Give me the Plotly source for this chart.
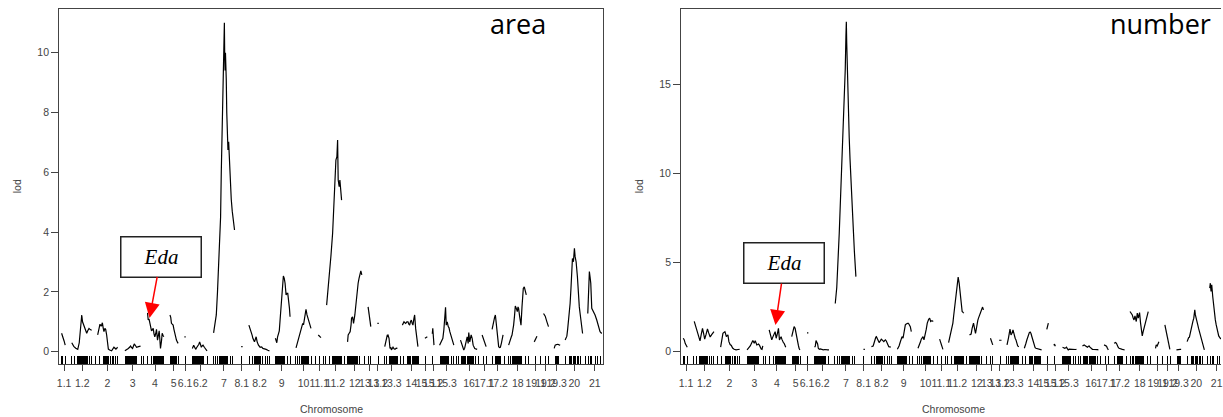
import plotly.graph_objects as go

# ---------------------------------------------------------------- data
chrom_names = ["1.1", "1.2", "2", "3", "4", "5", "6.1", "6.2", "7", "8.1", "8.2",
               "9", "10", "11.1", "11.2", "12", "13.1", "13.2", "13.3", "14",
               "15.1", "15.2", "15.3", "16", "17.1", "17.2", "18", "19.1",
               "19.2", "19.3", "20", "21"]
# cumulative map position of each linkage-group midpoint (axis ticks)
chrom_mid = [62.3, 80.5, 105.7, 131.0, 153.5, 172.3, 183.7, 199.0, 222.7, 240.5,
             258.3, 280.7, 302.5, 318.3, 334.3, 354.0, 368.5, 377.0, 390.7, 410.8,
             425.3, 432.5, 446.0, 468.6, 484.0, 497.3, 517.5, 535.5, 545.2, 556.5,
             574.2, 594.7]

# genotyped marker positions (cumulative), shown as a rug
marker_pos = [
    59.5, 60.7, 64.0,
    70.0, 72.7, 75.7, 76.5, 77.3, 78.0, 78.8, 79.6, 80.4, 81.2, 82.0, 82.8, 83.6, 84.3, 86.0, 87.7, 90.0,
    94.3, 98.3, 101.7, 102.7, 103.7, 105.0, 106.0, 107.3, 109.0, 110.7, 112.3, 114.3, 116.0,
    123.5, 124.3, 125.1, 125.9, 126.7, 127.5, 128.3, 129.1, 129.9, 130.7, 131.5, 132.3, 133.1, 133.8,
    134.5, 140.0, 142.3,
    145.7, 150.0, 151.7, 152.5, 153.3, 154.1, 154.9, 155.7, 156.5, 157.3, 158.1, 158.9, 159.7, 160.5,
    161.3, 162.3,
    169.0, 169.8, 170.6, 172.3, 173.0, 173.8, 174.5, 175.2, 176.7,
    183.7,
    191.0, 191.8, 192.6, 193.4, 194.2, 195.0, 195.8, 196.6, 197.4, 198.2, 199.0, 199.8, 200.6, 201.4,
    202.3, 205.7,
    211.7, 214.3, 216.5, 218.0, 219.0, 220.0, 221.0, 222.0, 223.0, 224.0, 225.0, 226.7, 229.0, 231.7,
    240.5,
    248.3, 251.0, 253.3, 254.1, 254.9, 255.7, 256.5, 257.3, 258.1, 258.9, 259.7, 261.7, 264.0, 266.0, 268.3,
    274.3, 275.1, 275.9, 276.7, 277.5, 278.3, 279.1, 279.9, 280.7, 281.5, 282.3, 283.1, 286.7, 289.3,
    294.3, 296.7, 298.3, 300.7, 301.5, 302.3, 303.1, 303.9, 304.7, 305.5, 306.3, 307.1, 307.9, 311.0,
    315.0, 318.3, 322.3, 325.0, 328.3,
    331.7, 332.5, 333.3, 334.1, 334.9, 335.7, 336.5, 337.3, 338.1, 338.9, 339.7, 340.5, 343.3,
    346.7, 347.5, 348.3, 349.1, 349.9, 350.7, 351.5, 352.3, 353.1, 353.9, 354.7, 355.5, 356.3, 358.3, 363.3,
    367.3, 370.0, 377.3,
    384.0, 385.7, 388.3, 389.1, 389.9, 390.7, 391.5, 392.3, 393.1, 393.9, 394.7, 395.5, 396.3, 400.0, 403.3,
    406.7, 408.0, 409.0, 410.3, 411.5, 413.0, 414.0, 415.0, 416.0, 417.0, 418.3,
    425.0, 431.7,
    440.0, 440.8, 441.6, 442.4, 443.2, 444.0, 444.8, 445.6, 446.4, 447.2, 448.0, 451.0, 453.3, 455.7, 458.3,
    461.0, 461.8, 462.6, 463.4, 464.2, 465.0, 466.7, 467.7, 468.5, 469.5, 470.5, 471.5, 472.5, 473.5,
    475.0, 477.7,
    483.3, 486.0, 492.3, 495.0, 495.8, 496.6, 497.4, 498.2, 499.0, 499.8, 504.3,
    508.3, 510.0, 511.7, 513.3, 514.1, 514.9, 515.7, 516.5, 517.3, 518.1, 518.9, 519.7, 520.5, 521.3,
    525.0, 528.3,
    535.0, 540.0, 545.0, 548.3,
    555.0, 555.8, 556.6, 557.4, 558.3,
    565.0, 569.0, 570.3, 571.7, 573.0, 574.3, 575.7, 577.0, 578.3, 580.0,
    585.0, 588.3, 590.0, 591.7, 595.0, 597.7, 600.0,
]

# LOD profile for plate area, one list per linkage group
area_pos = [
    [59.8, 61.2, 62.3, 63.4],
    [70, 72, 74, 76, 77.5, 79, 80, 80.8, 81.7, 83.3, 85, 86, 87.3, 88.5, 90],
    [96, 97, 98.3, 99.5, 100.7, 101.5, 102.3, 103.2, 104, 105, 106, 106.7, 108, 110, 112.3, 114.3, 116],
    [123.3, 125, 126.7, 128, 129, 130, 131, 132, 132.7, 134, 135, 137, 139],
    [146, 146.7, 147.5, 148.3, 149.2, 150, 151, 151.7, 152.5, 153.3, 154.2, 155, 156, 157, 157.7, 158.4,
     159, 160, 160.7, 161.5, 162.3],
    [168.5, 169.3, 170, 171, 171.7, 172.5, 173.3, 174.2, 175, 176, 176.7],
    [183.0, 184.3],
    [191, 192.3, 193.3, 194.3, 195.5, 196.7, 197.5, 198.3, 199.2, 200, 201, 201.7, 203, 204, 205.7],
    [212.3, 213.5, 215, 216.2, 217.3, 218.3, 219.3, 220, 220.6, 221.2, 221.8, 222.4, 222.8, 223.1, 223.4,
     223.8, 224.2, 224.6, 225, 225.5, 226, 226.7, 227.4, 228, 228.7, 229.3, 230, 231, 232, 233.3],
    [240.0, 241.4],
    [247.7, 249, 250, 251, 251.7, 252.5, 253.3, 254, 255, 256, 257.3, 259, 260.5, 261.7, 263.5, 265, 266.7, 268.3],
    [274.3, 275, 275.7, 276.5, 277.3, 278.2, 279, 279.8, 280.7, 281.5, 282.3, 283.2, 284, 285, 285.8, 286.7,
     287.7, 288.4, 289],
    [295, 296, 296.7, 297.5, 298.3, 299.2, 300, 301, 301.7, 302.5, 303.3, 304.2, 305, 306, 306.7, 307.3,
     308.2, 309, 310],
    [317.3, 318.7, 320],
    [325.7, 327, 328.3, 330, 331.7, 332.5, 333.3, 334.3, 335, 336, 336.7, 337.3, 338.3, 339, 340, 340.7],
    [346.7, 347.3, 348.3, 349.3, 350.2, 350.7, 351.7, 352.7, 354, 355, 356, 357.3, 358.2, 359, 360, 361],
    [367.3, 368.5, 370],
    [376.6, 378.0],
    [384, 384.8, 385.7, 386.5, 387.3, 388.3, 389.3, 390, 390.7, 391.5, 392.3, 393.3, 394.3, 395.5, 396.7],
    [401.7, 402.5, 403.3, 404.2, 405, 406.2, 407.3, 408.2, 409, 409.8, 410.7, 411.5, 412.3, 413.2, 414,
     415, 416, 417.3],
    [424.3, 426.7],
    [431.7, 432.2, 432.8, 433.4],
    [439, 440, 441, 442.3, 443.3, 444.3, 445, 445.7, 446.7, 447.7, 448.5, 449.3, 450.2, 451, 452.2, 453.3],
    [460, 461, 461.7, 462.5, 463.3, 464.2, 465, 466, 466.7, 467.7, 468.3, 469.3, 470, 470.7, 471.7, 472.7,
     474.3, 476.7],
    [481.7, 483.7, 485.7],
    [491.7, 492.5, 493.3, 494.2, 495, 496, 497.3, 498.3, 499.2, 500, 501, 501.7, 502.7],
    [508.3, 509.2, 510, 511, 511.7, 512.5, 513.3, 514.2, 515, 516, 517, 517.7, 518.3, 519.3, 520, 520.7,
     521.7, 522.3, 523, 524, 525, 526],
    [534, 535.3, 536.7],
    [543.3, 545, 546.7, 548.3],
    [554, 555, 556.3, 557.7, 559, 560],
    [565, 566.7, 567.5, 568.3, 569.2, 570, 570.8, 571.7, 572.3, 573.3, 574.3, 575, 576, 577.3, 578.3,
     579.2, 580, 580.8, 581.7, 582.5],
    [587.7, 588.3, 589.3, 590, 590.7, 591.7, 592.5, 593.3, 595, 596.7, 598.3, 600, 601.7],
]
area_lod = [
    [0.62, 0.42, 0.36, 0.22],
    [0.3, 0.18, 0.12, 0.08, 0.3, 0.8, 1.23, 1.0, 0.92, 0.82, 0.62, 0.7, 0.78, 0.74, 0.72],
    [0.56, 0.75, 0.92, 0.85, 0.97, 0.8, 0.67, 0.78, 0.75, 0.56, 0.3, 0.09, 0.06, 0.03, 0.15, 0.09, 0.15],
    [0.03, 0.06, 0.11, 0.15, 0.19, 0.14, 0.11, 0.2, 0.26, 0.2, 0.15, 0.17, 0.19],
    [1.3, 1.06, 1.1, 0.95, 0.8, 0.7, 0.75, 0.78, 0.6, 0.5, 0.6, 0.75, 0.39, 0.55, 0.7, 0.4,
     0.11, 0.35, 0.62, 0.55, 0.5],
    [1.23, 1.15, 0.95, 0.92, 0.89, 0.75, 0.62, 0.5, 0.39, 0.32, 0.28],
    [0.5, 0.5],
    [0.11, 0.22, 0.15, 0.08, 0.15, 0.19, 0.25, 0.33, 0.22, 0.15, 0.2, 0.22, 0.15, 0.09, 0.03],
    [0.63, 0.85, 1.23, 2.0, 2.96, 3.7, 4.5, 6.0, 6.8, 7.5, 8.4, 9.6, 10.4, 11.0, 10.0,
     9.4, 10.0, 9.7, 9.1, 8.0, 6.97, 6.75, 7.02, 6.5, 6.13, 5.9, 5.1, 4.7, 4.4, 4.07],
    [0.17, 0.17],
    [0.89, 0.78, 0.67, 0.55, 0.45, 0.4, 0.33, 0.4, 0.5, 0.33, 0.22, 0.15, 0.16, 0.11, 0.1, 0.08, 0.05, 0.03],
    [0.45, 0.4, 0.3, 0.5, 0.62, 0.7, 1.06, 1.5, 2.06, 2.4, 2.53, 2.45, 2.29, 1.9, 1.95, 1.95,
     1.73, 1.45, 1.17],
    [0.13, 0.25, 0.33, 0.45, 0.56, 0.65, 0.78, 0.85, 0.95, 0.9, 1.12, 1.25, 1.42, 1.23, 1.15, 1.06,
     0.95, 0.89, 0.78],
    [0.56, 0.5, 0.47],
    [1.56, 2.0, 2.51, 3.2, 3.96, 4.5, 5.07, 6.13, 6.41, 6.52, 7.08, 5.74, 5.52, 5.74, 5.35, 5.07],
    [0.33, 0.56, 0.62, 0.67, 0.9, 1.12, 1.17, 0.95, 1.23, 1.6, 1.95, 2.29, 2.45, 2.62, 2.7, 2.57],
    [1.5, 1.1, 0.84],
    [0.95, 0.95],
    [0.17, 0.3, 0.45, 0.55, 0.56, 0.45, 0.11, 0.15, 0.06, 0.1, 0.15, 0.1, 0.08, 0.12, 0.11],
    [0.89, 0.95, 1.0, 0.97, 0.95, 1.0, 1.0, 0.92, 0.89, 1.0, 1.06, 0.95, 0.89, 1.1, 1.23,
     0.78, 0.5, 0.17],
    [0.45, 0.5],
    [0.6, 0.78, 0.5, 0.22],
    [0.22, 0.3, 0.39, 0.45, 0.73, 1.04, 1.49, 0.89, 1.0, 0.84, 0.8, 0.67, 0.55, 0.45, 0.33, 0.22],
    [0.39, 0.3, 0.22, 0.12, 0.06, 0.12, 0.22, 0.4, 0.5, 0.28, 0.64, 0.33, 0.45, 0.56, 0.45, 0.22,
     0.11, 0.08],
    [0.56, 0.36, 0.17],
    [0.75, 0.9, 1.06, 1.15, 1.23, 0.89, 0.45, 0.17, 0.14, 0.15, 0.28, 0.39, 0.56],
    [0.22, 0.35, 0.45, 0.5, 0.56, 0.7, 0.89, 1.2, 1.53, 1.45, 1.34, 1.5, 1.45, 1.19, 1.0, 0.89,
     1.5, 1.8, 2.12, 2.17, 2.06, 1.9],
    [0.33, 0.42, 0.52],
    [1.28, 1.19, 1.0, 0.84],
    [0.11, 0.22, 0.24, 0.25, 0.23, 0.22],
    [0.39, 0.52, 0.75, 1.0, 1.3, 1.62, 2.1, 2.62, 3.12, 3.01, 3.46, 3.18, 3.01, 2.51, 1.84,
     1.5, 1.28, 1.0, 0.73, 0.61],
    [1.28, 1.95, 2.68, 2.5, 2.29, 1.45, 1.4, 1.34, 1.23, 1.06, 0.89, 0.67, 0.61],
]

# LOD profile for plate number, one list per linkage group
number_pos = [
    [59.5, 60.5, 61.5, 62.5, 63.5],
    [70.5, 72, 73.5, 75, 76.3, 77.5, 78.8, 80, 81, 82.3, 83.8, 85, 86.5, 88, 89, 90.3],
    [97, 97.7, 98.5, 99.3, 100.3, 101.3, 102, 102.7, 103.5, 104.3, 105.3, 106.5, 107.7, 109, 110.5,
     112.5, 114.5, 116],
    [123.5, 124.5, 125.7, 126.7, 127.7, 128.5, 129.3, 130, 130.7, 131.7, 132.5, 133.3, 134.2, 135, 136,
     136.7, 137.7, 138.5, 139.3],
    [145.7, 146.3, 147, 147.7, 148.3, 149.2, 150, 150.8, 151.7, 152.7, 153.3, 154, 155, 156, 156.8, 157.7,
     158.4, 159, 160, 160.7, 161.5, 162.3],
    [168.3, 169.3, 170, 170.7, 171.7, 172.7, 173.5, 174, 175, 175.7, 176.5],
    [183.6, 185.0],
    [191.3, 192, 192.7, 193.5, 194.3, 195, 196, 197, 198.5, 200, 201.5, 203.3, 204.5, 205.7],
    [212, 213.5, 216, 218.7, 220.3, 221.3, 222, 222.7, 223.1, 223.5, 223.9, 224.4, 225, 225.4, 226,
     226.8, 227.7, 228.5, 229.3, 230.3, 231.2, 232, 232.7],
    [240.3, 241.7],
    [248.3, 250, 251, 251.7, 252.7, 253.3, 254.2, 255, 256, 257.3, 258.2, 259, 259.8, 260.7, 261.5, 262.3,
     263.2, 264, 265, 265.7, 267.7],
    [274.3, 275.2, 276, 277, 277.7, 278.4, 279, 280, 281, 282.3, 283.2, 284, 285, 285.7, 286.5, 287.3, 288.3],
    [295, 296, 296.7, 297.5, 298.3, 299.2, 300, 301, 302.3, 303.3, 304.3, 305, 305.7, 306.7, 307.7, 309, 310.3],
    [316.7, 317.5, 318.3, 319.2, 320],
    [325.7, 326.7, 327.7, 328.5, 329.3, 330, 330.7, 331.5, 332.3, 333.3, 334.3, 335.3, 336.3, 337.3,
     338.3, 339.3, 340.2, 341],
    [346.7, 347.5, 348.3, 349.3, 350, 350.7, 351.7, 352.7, 353.3, 354, 355, 355.7, 356.5, 357.3, 358.2,
     359, 359.8, 360.7],
    [367.7, 368.8, 370],
    [376.4, 378.8],
    [384.3, 385, 385.7, 386.5, 387.3, 388.3, 389.3, 390.3, 391, 391.7, 392.5, 393.3, 394.2, 395, 396.2],
    [401.7, 402.5, 403.3, 404.2, 405, 406, 406.7, 407.5, 408.3, 409.2, 410, 410.8, 411.7, 412.5, 413.3,
     415, 416.7, 418, 419],
    [424.2, 425.8],
    [431.3, 432, 432.8],
    [440, 441, 442.3, 443.2, 444, 445, 445.7, 446.8, 448.3, 450, 451.7, 453, 454],
    [460, 461, 461.7, 462.5, 463.3, 464.2, 465, 466, 466.7, 467.5, 468.3, 469.2, 470, 471.5, 473.3, 475, 476],
    [481.7, 482.5, 483.3, 484.2, 485, 486],
    [491.7, 492.5, 493.3, 494.2, 495, 495.8, 496.7, 498, 500, 501.3, 502.3],
    [507.7, 508.8, 510, 510.8, 511.7, 512.7, 513.3, 514, 515, 516, 516.7, 517.3, 518.3, 519.2, 520,
     520.8, 521.7, 522.5, 523.3, 524.5, 526],
    [533.3, 534, 535, 535.8, 536.7],
    [542.7, 544, 545.3, 546.5, 547.7],
    [554.3, 555.5, 556.7, 558, 559],
    [565, 565.7, 566.5, 567.3, 568.3, 569.2, 570, 570.8, 571.7, 572.3, 572.7, 573.3, 574.3, 575, 575.7,
     576.5, 577.3, 578.2, 579, 579.8, 580.7, 581.5, 582.3],
    [587.7, 588.3, 589, 589.7, 590.7, 591.7, 592.5, 593.3, 594.2, 595, 596, 596.7, 598.3, 600, 601.7],
]
number_lod = [
    [0.75, 0.66, 0.45, 0.32, 0.25],
    [1.7, 1.4, 1.1, 0.85, 0.6, 0.95, 1.3, 1.0, 0.7, 0.95, 1.28, 1.05, 0.82, 0.95, 1.05, 1.12],
    [0.25, 0.6, 0.85, 1.03, 1.08, 1.12, 1.0, 0.84, 0.9, 0.94, 0.56, 0.4, 0.35, 0.2, 0.13, 0.1, 0.12, 0.13],
    [0.1, 0.15, 0.25, 0.32, 0.43, 0.5, 0.62, 0.55, 0.47, 0.62, 0.5, 0.38, 0.4, 0.43, 0.35,
     0.25, 0.15, 0.13, 0.32],
    [1.22, 1.1, 0.94, 0.7, 0.66, 0.8, 0.88, 1.0, 1.12, 0.75, 0.85, 1.03, 1.31, 0.66, 0.75, 0.84,
     0.7, 0.56, 0.5, 0.47, 0.35, 0.25],
    [0.84, 1.12, 1.3, 1.4, 1.31, 0.94, 0.7, 0.56, 0.35, 0.19, 0.1],
    [1.05, 1.05],
    [0.25, 0.32, 0.62, 0.5, 0.43, 0.19, 0.13, 0.15, 0.12, 0.1, 0.12, 0.13, 0.1, 0.1],
    [2.7, 3.6, 6.65, 10.4, 13.6, 14.1, 15.8, 17.7, 18.5, 17.3, 16.2, 15.3, 13.5, 12.3, 12.0,
     10.8, 9.46, 8.4, 7.4, 6.65, 5.6, 4.8, 4.21],
    [0.13, 0.13],
    [0.28, 0.32, 0.5, 0.66, 0.81, 0.84, 0.75, 0.66, 0.51, 0.62, 0.7, 0.66, 0.6, 0.56, 0.62, 0.66,
     0.6, 0.51, 0.4, 0.28, 0.25],
    [0.13, 0.2, 0.32, 0.5, 0.66, 0.75, 0.84, 0.75, 1.22, 1.5, 1.55, 1.6, 1.6, 1.56, 1.5, 1.4, 1.12],
    [0.19, 0.3, 0.43, 0.55, 0.7, 0.78, 0.84, 0.66, 0.94, 1.26, 1.6, 1.75, 1.82, 1.88, 1.69, 1.74, 1.69],
    [0.7, 0.55, 0.32, 0.2, 0.13],
    [0.51, 0.75, 1.03, 1.2, 1.37, 1.6, 1.97, 2.4, 2.81, 3.47, 4.03, 4.18, 3.84, 3.19, 2.62, 2.25, 2.2, 2.16],
    [0.94, 1.0, 0.99, 1.31, 1.45, 1.6, 1.31, 1.03, 1.2, 1.5, 1.75, 1.88, 2.0, 2.19, 2.35, 2.47, 2.5, 2.34],
    [0.75, 0.55, 0.38],
    [0.64, 0.64],
    [0.38, 0.5, 0.75, 1.0, 1.26, 0.94, 1.03, 1.22, 1.0, 0.84, 0.75, 0.66, 0.5, 0.32, 0.28],
    [0.19, 0.3, 0.47, 0.65, 0.84, 1.0, 1.07, 1.1, 1.03, 0.85, 0.66, 0.5, 0.32, 0.22, 0.19, 0.15,
     0.13, 0.12, 0.1],
    [1.25, 1.6],
    [0.35, 0.42, 0.3],
    [0.25, 0.22, 0.19, 0.22, 0.25, 0.15, 0.1, 0.14, 0.13, 0.11, 0.1, 0.12, 0.13],
    [0.32, 0.36, 0.38, 0.35, 0.32, 0.28, 0.25, 0.3, 0.32, 0.25, 0.19, 0.15, 0.13, 0.12, 0.13, 0.11, 0.1],
    [0.38, 0.35, 0.32, 0.3, 0.19, 0.1],
    [0.47, 0.5, 0.51, 0.45, 0.32, 0.25, 0.19, 0.15, 0.13, 0.11, 0.1],
    [2.25, 2.15, 2.06, 1.9, 1.78, 2.0, 1.85, 1.69, 2.16, 1.88, 2.05, 2.19, 1.6, 1.2, 0.88,
     1.1, 1.31, 1.55, 1.78, 2.0, 2.25],
    [0.19, 0.38, 0.32, 0.45, 0.56],
    [1.5, 1.1, 0.75, 0.4, 0.13],
    [0.1, 0.12, 0.13, 0.13, 0.13],
    [0.56, 0.75, 0.78, 0.81, 1.12, 1.3, 1.5, 1.7, 1.88, 2.1, 2.34, 2.06, 1.88, 1.7, 1.5,
     1.3, 1.12, 0.95, 0.75, 0.56, 0.38, 0.22, 0.1],
    [3.56, 3.84, 3.37, 3.75, 3.09, 2.44, 2.1, 1.78, 1.5, 1.22, 1.0, 0.88, 0.75, 0.65, 0.6],
]

# Eda (linkage group IV) call-out: arrow tip and label box centre, per panel
eda_tip = {"area": (148.0, 1.13), "number": (152.0, 1.5)}
eda_box = {"area": (159.5, 3.18), "number": (161.0, 4.95)}

# ---------------------------------------------------------------- layout
W, H = 1223, 417
TICK_FONT = dict(family="Liberation Sans, Arial, sans-serif", size=10.5, color="#444444")
AXIS_COLOR = "#444444"

panels = [
    # name, x-axis id, y-axis id, rug axis id, x px span, y range, y tick step, title centre px
    ("area", "x", "y", "x3", (57.3, 603.3), (-0.42, 11.46), 2, 518),
    ("number", "x2", "y2", "x4", (681.3, 1223.0), (-0.71, 19.22), 5, 1162),
]
X_START = 57.3          # left end of the map axis
PX_PER_UNIT = 1.0       # map units per screen pixel
Y_TOP_PX, Y_BOT_PX = 9.0, 364.3
y_domain = [1 - Y_BOT_PX / H, 1 - Y_TOP_PX / H]


def joined(pos_lists, lod_lists):
    xs, ys = [], []
    for p, l in zip(pos_lists, lod_lists):
        xs += list(p) + [None]
        ys += list(l) + [None]
    return xs, ys


profiles = {"area": (area_pos, area_lod), "number": (number_pos, number_lod)}

fig = go.Figure()
layout = dict(
    width=W, height=H,
    margin=dict(l=0, r=0, t=0, b=0),
    paper_bgcolor="white", plot_bgcolor="white",
    showlegend=False,
    annotations=[],
)

for name, xa, ya, rug, (px0, px1), yr, ystep, title_px in panels:
    xs, ys = joined(*profiles[name])
    fig.add_trace(go.Scatter(x=xs, y=ys, mode="lines", xaxis=xa, yaxis=ya,
                             line=dict(color="black", width=1.2), hoverinfo="skip"))
    # invisible carrier so the rug axis is rendered
    fig.add_trace(go.Scatter(x=[marker_pos[0]], y=[None], xaxis=rug, yaxis=ya,
                             mode="markers", hoverinfo="skip"))

    xrange = [X_START, X_START + (px1 - px0) / PX_PER_UNIT]
    dom = [px0 / W, min(px1 / W, 1.0)]
    xkey = "xaxis" if xa == "x" else "xaxis" + xa[1:]
    ykey = "yaxis" if ya == "y" else "yaxis" + ya[1:]
    rkey = "xaxis" + rug[1:]

    layout[xkey] = dict(
        domain=dom, range=xrange, anchor=ya,
        tickmode="array", tickvals=chrom_mid, ticktext=chrom_names, tickangle=0,
        ticks="outside", ticklen=6, tickwidth=1, tickcolor=AXIS_COLOR,
        tickfont=TICK_FONT, ticklabelstandoff=3, ticklabeloverflow="allow",
        showgrid=False, zeroline=False,
        showline=True, mirror=True, linecolor=AXIS_COLOR, linewidth=1,
    )
    layout[rkey] = dict(
        overlaying=xa, anchor=ya, range=xrange, side="bottom",
        tickmode="array", tickvals=marker_pos, ticks="inside", ticklen=8,
        tickwidth=1, tickcolor="black", showticklabels=False,
        showgrid=False, zeroline=False, showline=False,
    )
    yticks = list(range(0, int(yr[1]) + 1, ystep))
    layout[ykey] = dict(
        domain=y_domain, range=list(yr), anchor=xa,
        tickmode="array", tickvals=yticks, ticks="outside", ticklen=7,
        tickwidth=1, tickcolor=AXIS_COLOR, tickfont=TICK_FONT,
        showgrid=False, zeroline=False,
        showline=True, mirror=(name == "area"), linecolor=AXIS_COLOR, linewidth=1,
    )

    cx = (px0 + px0 + 546.0) / 2
    layout["annotations"] += [
        dict(text="Chromosome", xref="paper", yref="paper", x=cx / W, y=1 - 409 / H,
             showarrow=False, xanchor="center", yanchor="middle",
             font=dict(family="Liberation Sans, Arial, sans-serif", size=10.5, color="#444444")),
        dict(text="lod", xref="paper", yref="paper", x=(px0 - 42) / W, y=1 - 186 / H,
             showarrow=False, textangle=-90, xanchor="center", yanchor="middle",
             font=dict(family="Liberation Sans, Arial, sans-serif", size=10.5, color="#444444")),
        dict(text=name, xref="paper", yref="paper", x=title_px / W, y=1 - 24 / H,
             showarrow=False, xanchor="center", yanchor="middle",
             font=dict(family="Open Sans, sans-serif", size=27, color="black")),
        dict(text="<i>Eda</i>", xref=xa, yref=ya,
             x=eda_tip[name][0], y=eda_tip[name][1],
             axref=xa, ayref=ya, ax=eda_box[name][0], ay=eda_box[name][1],
             showarrow=True, arrowhead=2, arrowsize=2, arrowwidth=1.5, arrowcolor="#ff0000",
             width=79, height=39, borderpad=0, borderwidth=1.5, bordercolor="#222222",
             bgcolor="white",
             font=dict(family="Liberation Serif, Times New Roman, serif", size=21, color="black")),
    ]

fig.update_layout(**layout)
fig.write_html("out.html")
